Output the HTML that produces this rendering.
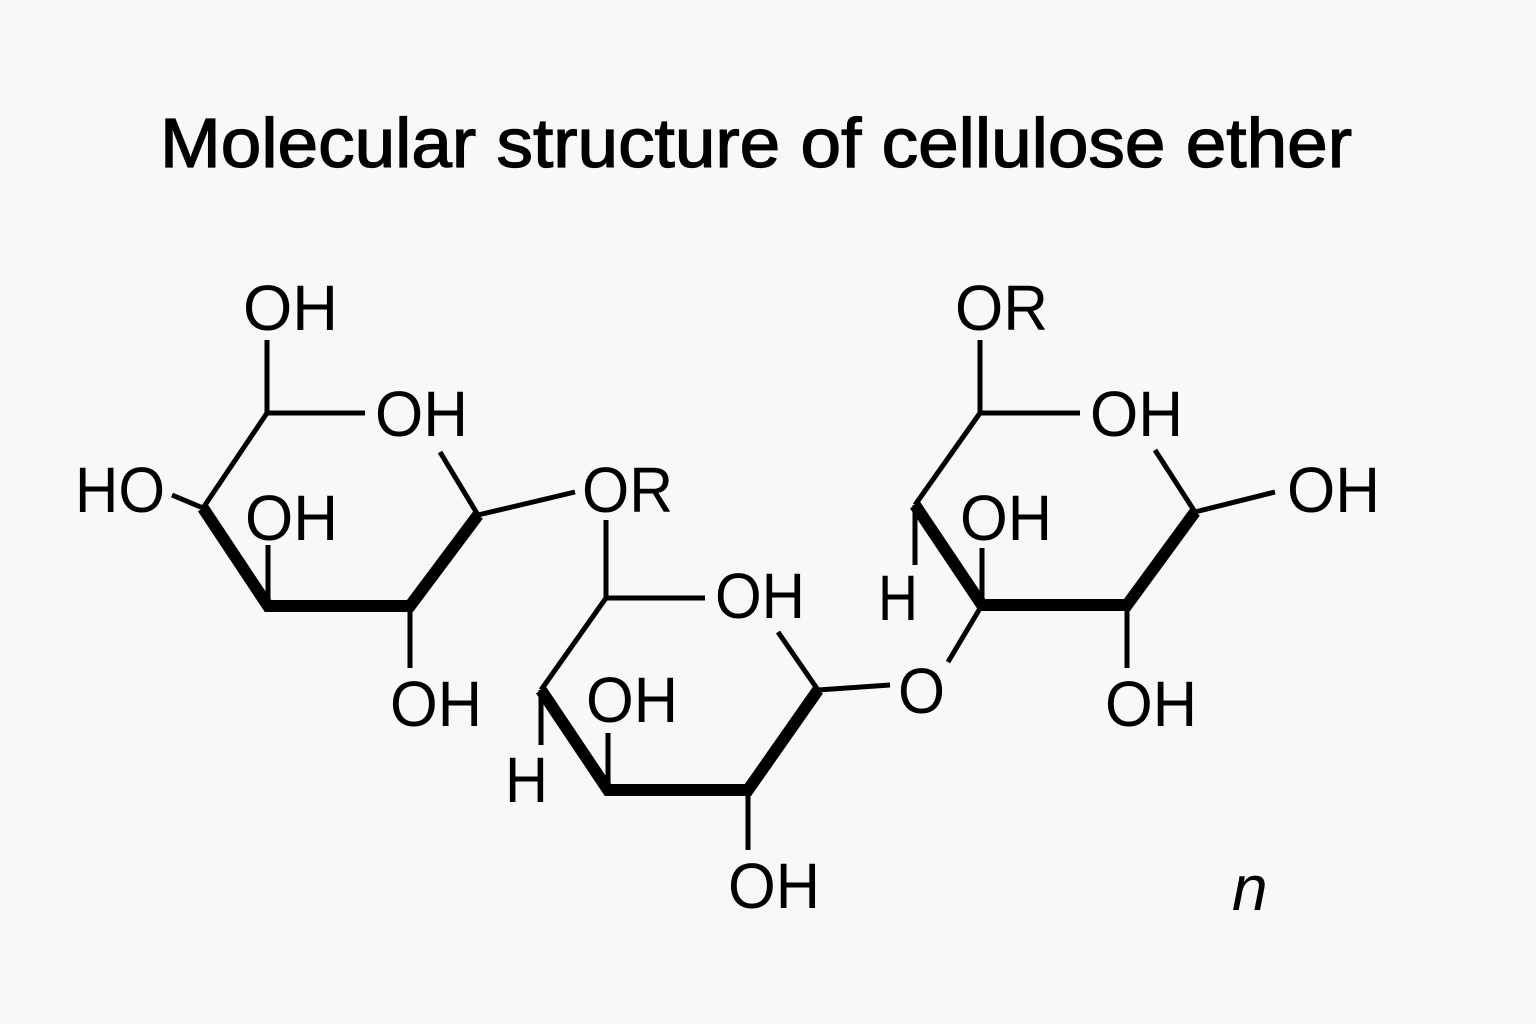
<!DOCTYPE html>
<html><head><meta charset="utf-8"><style>
html,body{margin:0;padding:0;background:#f8f8f8;}
svg{display:block;}
text{font-family:"Liberation Sans",sans-serif;fill:#000;}
</style></head><body>
<svg width="1536" height="1024" viewBox="0 0 1536 1024" xmlns="http://www.w3.org/2000/svg">
<rect width="1536" height="1024" fill="#f8f8f8"/>
<text x="160" y="167" font-size="70" stroke="#000" stroke-width="1.3" textLength="1192" lengthAdjust="spacingAndGlyphs">Molecular structure of cellulose ether</text>
<g stroke="#000" stroke-width="5" fill="none" stroke-linecap="butt">
<line x1="267" y1="340" x2="267" y2="413"/>
<line x1="265" y1="413" x2="365" y2="413"/>
<line x1="267" y1="413" x2="203" y2="508"/>
<line x1="203" y1="508" x2="172" y2="495"/>
<line x1="478" y1="515" x2="440" y2="452"/>
<line x1="268" y1="545" x2="268" y2="602"/>
<line x1="410" y1="606" x2="410" y2="668"/>
<line x1="478" y1="515" x2="575" y2="492"/>
<line x1="606" y1="520" x2="606" y2="598"/>
<line x1="604" y1="598" x2="705" y2="598"/>
<line x1="606" y1="598" x2="541" y2="690"/>
<line x1="541" y1="690" x2="541" y2="745"/>
<line x1="818" y1="690" x2="778" y2="632"/>
<line x1="608" y1="733" x2="608" y2="786"/>
<line x1="748" y1="790" x2="748" y2="850"/>
<line x1="818" y1="690" x2="890" y2="685"/>
<line x1="980" y1="340" x2="980" y2="413"/>
<line x1="978" y1="413" x2="1080" y2="413"/>
<line x1="980" y1="413" x2="915" y2="505"/>
<line x1="915" y1="505" x2="915" y2="565"/>
<line x1="1195" y1="512" x2="1155" y2="450"/>
<line x1="982" y1="548" x2="982" y2="602"/>
<line x1="1195" y1="512" x2="1275" y2="492"/>
<line x1="1127" y1="605" x2="1127" y2="668"/>
<line x1="982" y1="605" x2="948" y2="662"/>
</g>
<g stroke="#000" stroke-width="12" fill="none" stroke-linejoin="miter" stroke-linecap="butt">
<polyline points="203,508 268,606 410,606 478,515"/>
<polyline points="541,690 608,790 748,790 818,690"/>
<polyline points="915,505 982,605 1127,605 1195,512"/>
</g>
<g font-size="64">
<text x="243" y="330" textLength="95" lengthAdjust="spacingAndGlyphs">OH</text>
<text x="375" y="436" textLength="93" lengthAdjust="spacingAndGlyphs">OH</text>
<text x="75" y="512" textLength="90" lengthAdjust="spacingAndGlyphs">HO</text>
<text x="245" y="540" textLength="93" lengthAdjust="spacingAndGlyphs">OH</text>
<text x="390" y="726" textLength="92" lengthAdjust="spacingAndGlyphs">OH</text>
<text x="582" y="512" textLength="91" lengthAdjust="spacingAndGlyphs">OR</text>
<text x="715" y="618" textLength="90" lengthAdjust="spacingAndGlyphs">OH</text>
<text x="586" y="722" textLength="92" lengthAdjust="spacingAndGlyphs">OH</text>
<text x="505" y="802" textLength="43" lengthAdjust="spacingAndGlyphs">H</text>
<text x="728" y="908" textLength="92" lengthAdjust="spacingAndGlyphs">OH</text>
<text x="898" y="713" textLength="47" lengthAdjust="spacingAndGlyphs">O</text>
<text x="955" y="330" textLength="93" lengthAdjust="spacingAndGlyphs">OR</text>
<text x="1090" y="436" textLength="93" lengthAdjust="spacingAndGlyphs">OH</text>
<text x="960" y="540" textLength="92" lengthAdjust="spacingAndGlyphs">OH</text>
<text x="878" y="620" textLength="40" lengthAdjust="spacingAndGlyphs">H</text>
<text x="1287" y="512" textLength="93" lengthAdjust="spacingAndGlyphs">OH</text>
<text x="1105" y="726" textLength="92" lengthAdjust="spacingAndGlyphs">OH</text>
</g>
<text x="1232" y="910" font-size="64" font-style="italic">n</text>
</svg>
</body></html>
